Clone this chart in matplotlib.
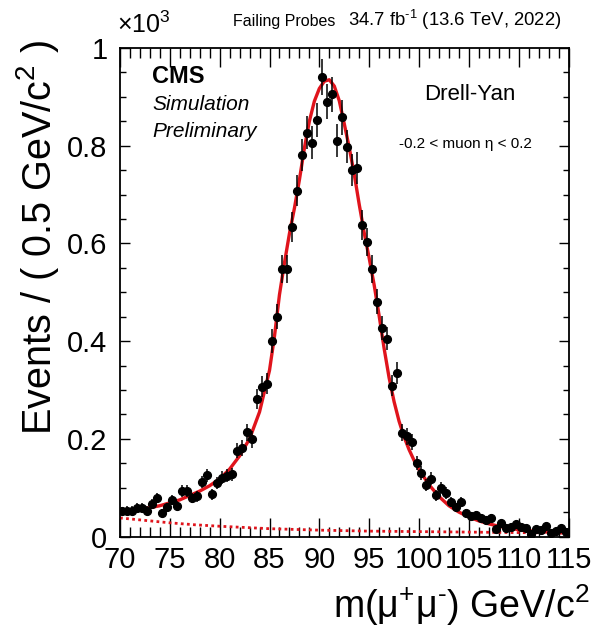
import numpy as np
import matplotlib
matplotlib.use('Agg')
import matplotlib.pyplot as plt
from matplotlib.ticker import MultipleLocator, FuncFormatter

plt.rcParams['font.family'] = ['Liberation Sans', 'DejaVu Sans']
plt.rcParams['mathtext.fontset'] = 'custom'
plt.rcParams['mathtext.rm'] = 'Liberation Sans'
plt.rcParams['mathtext.it'] = 'Liberation Sans:italic'
plt.rcParams['mathtext.bf'] = 'Liberation Sans:bold'

# binned MC events, 0.5 GeV bins from 70 to 115
bin_centers = np.arange(70.25, 115.0, 0.5)
events = [52, 53, 53, 59, 59, 53, 67, 79, 48, 60, 74, 63, 93, 93, 79, 82, 112, 125, 86, 110, 120, 124, 127,
          176, 181, 213, 199, 281, 307, 313, 400, 450, 548, 548, 634, 708,
          781, 827, 806, 853, 940, 890, 905, 810, 858, 798, 750, 755,
          638, 603, 548, 481, 427, 405, 309, 335, 212, 205, 194, 151, 130,
          105, 118, 84, 100, 89, 71, 60, 70, 48, 42, 45, 38, 33, 38, 16, 28, 18, 20, 25, 20, 18, 6, 16, 14, 21, 8, 11, 18, 9]
events = np.array(events, dtype=float)
errors = 1.2 * np.sqrt(events)

# total fit curve
fit_mass = [70, 71, 72, 73, 74, 75, 76, 77, 78, 79, 80, 81, 82, 83, 84, 85, 85.5, 86, 86.5, 87, 87.5, 88, 88.5,
            89, 89.5, 90, 90.5, 91, 91.5, 92, 92.5, 93, 93.5, 94, 94.5, 95, 95.5, 96, 96.5, 97, 97.5, 98, 98.5,
            99, 99.5, 100, 101, 102, 103, 104, 105, 106, 107, 108, 109, 110, 111, 112, 113, 114, 115]
fit_vals = [52, 54, 56, 59, 63, 69, 75, 84, 93, 104, 118, 138, 165, 200, 255, 340, 410, 495, 560, 620, 672, 730, 795,
            850, 891, 917, 932, 935, 922, 892, 845, 796, 742, 680, 622, 570, 515, 452, 385, 325, 276, 236, 204,
            178, 156, 137, 106, 82, 63, 50, 40, 32, 26, 21, 17, 14, 12, 10, 9, 8, 8]

# background component (dotted)
bkg_mass = [70, 72.5, 75, 77.5, 80, 85, 90, 95, 100, 105, 110, 115]
bkg_vals = [38, 33, 28, 24, 21, 16, 13, 11, 10, 9, 8, 7]

fig = plt.figure(figsize=(5.98, 6.37), dpi=100)
ax = fig.add_axes([120/598, 1 - 536.5/637, 448.5/598, 488.5/637])

red = '#e0141c'
ax.plot(bkg_mass, np.array(bkg_vals) / 1000, color=red, lw=2, ls=(0, (1, 1.2)))
ax.plot(fit_mass, np.array(fit_vals) / 1000, color=red, lw=2.4)
ax.errorbar(bin_centers, events / 1000, yerr=errors / 1000, fmt='o', color='black',
            ms=5.6, elinewidth=1.1, capsize=0)

ax.set_xlim(70, 115)
ax.set_ylim(0, 1.0)
ax.xaxis.set_major_locator(MultipleLocator(5))
ax.xaxis.set_minor_locator(MultipleLocator(1))
ax.yaxis.set_major_locator(MultipleLocator(0.2))
ax.yaxis.set_minor_locator(MultipleLocator(0.05))
ax.yaxis.set_major_formatter(FuncFormatter(lambda v, p: '{:g}'.format(round(v, 2))))
ax.tick_params(which='both', direction='in', top=True, right=True, labelsize=21)
ax.tick_params(axis='x', which='major', length=14, width=1, pad=7)
ax.tick_params(axis='x', which='minor', length=7, width=1)
ax.tick_params(axis='y', which='major', length=7, width=1, pad=9)
ax.tick_params(axis='y', which='minor', length=4.5, width=1)
for s in ax.spines.values():
    s.set_linewidth(1.3)

fig.text(117/598, 1 - 33/637, r'$\times$10$^{3}$', fontsize=18, ha='left', va='baseline')
fig.text(335/598, 1 - 26/637, 'Failing Probes', fontsize=11.5, ha='right', va='baseline')
fig.text(562/598, 1 - 26/637, r'34.7 fb$^{\text{-}1}$ (13.6 TeV, 2022)', fontsize=13.3, ha='right', va='baseline')

fig.text(152/598, 1 - 83/637, 'CMS', fontsize=17, fontweight='bold', ha='left', va='baseline')
fig.text(152/598, 1 - 110/637, 'Simulation', fontsize=15, style='italic', ha='left', va='baseline')
fig.text(152/598, 1 - 137/637, 'Preliminary', fontsize=15, style='italic', ha='left', va='baseline')

fig.text(470/598, 1 - 95/637, 'Drell-Yan', fontsize=16, ha='center', va='center')
fig.text(465/598, 1 - 144/637, '-0.2 < muon η < 0.2', fontsize=11, ha='center', va='center')

fig.text(38/598, 1 - 237/637, r'Events / ( 0.5 GeV/c$^{2}$ )', fontsize=28.5, rotation=90,
         ha='center', va='center')
fig.text(590/598, 1 - 605/637, r'm(μ$^{+}$μ$^{\text{-}}$) GeV/c$^{2}$', fontsize=27, ha='right', va='center')

plt.savefig('out.png', dpi=100)
